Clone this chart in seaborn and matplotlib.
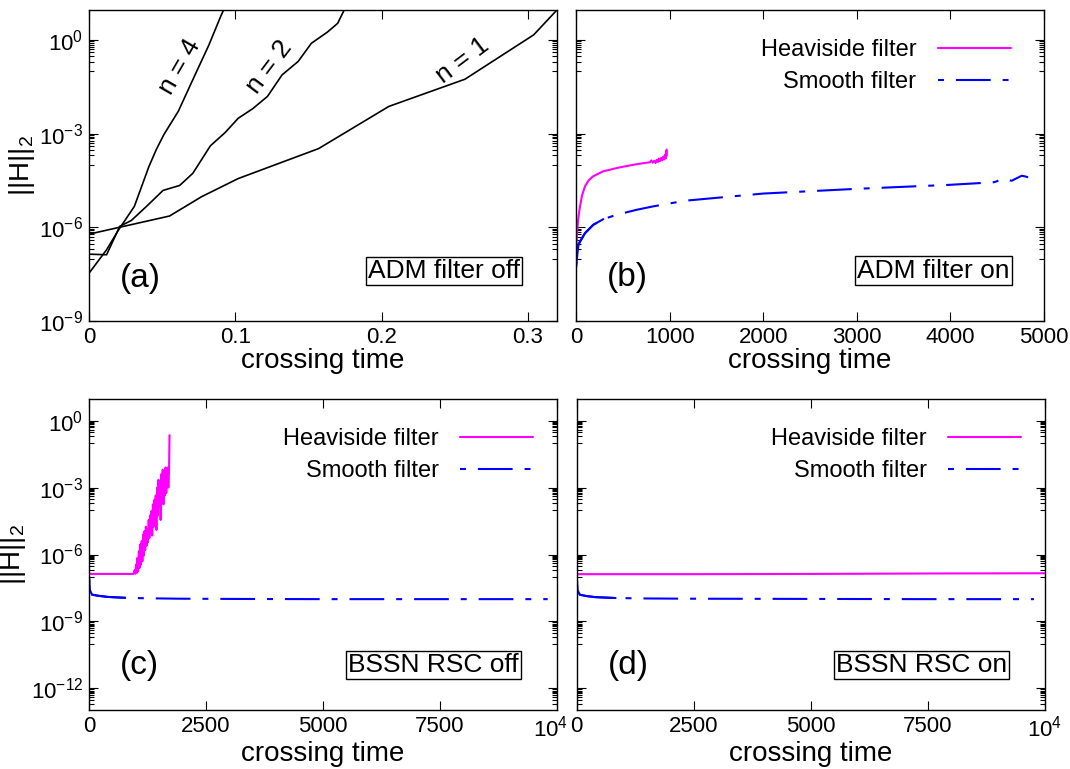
import numpy as np
import pandas as pd
import matplotlib
matplotlib.use("Agg")
import matplotlib.pyplot as plt
import seaborn as sns
from matplotlib.ticker import FixedLocator, FixedFormatter, NullFormatter
from matplotlib.transforms import ScaledTranslation

# ---------------- data (log10 of ||H||_2 versus crossing time) ----------------
# (a) ADM filter off, three resolutions
n1_t = [0.0, 0.055, 0.077, 0.102, 0.157, 0.205, 0.257, 0.304, 0.3208]
n1_log10H = [-6.22, -5.64, -5.02, -4.44, -3.48, -2.13, -1.26, 0.16, 1.0]
n2_t = [0.0, 0.012, 0.021, 0.029, 0.040, 0.0506, 0.062, 0.071, 0.083, 0.093,
        0.102, 0.112, 0.122, 0.132, 0.143, 0.152, 0.163, 0.170, 0.1745, 0.175]
n2_log10H = [-6.86, -6.88, -5.97, -5.78, -5.30, -4.82, -4.66, -4.27, -3.39, -2.97,
             -2.51, -2.20, -1.81, -1.12, -0.69, -0.11, 0.25, 0.53, 0.96, 1.0]
n4_t = [0.0, 0.012, 0.020, 0.031, 0.041, 0.046, 0.0512, 0.061, 0.072, 0.082, 0.090, 0.092, 0.0925]
n4_log10H = [-7.47, -6.72, -6.10, -5.33, -4.05, -3.51, -3.03, -2.29, -1.17, -0.16, 0.75, 0.96, 1.0]
n_labels = ["n = 4", "n = 2", "n = 1"]

# (b) ADM filter on
heav_b_t = [0, 5, 14, 25, 43, 65, 96, 135, 182, 288, 470, 649, 760, 790, 805, 820, 835,
            850, 862, 875, 885, 897, 910, 920, 930, 940, 950, 958, 963, 966, 969]
heav_b_log10H = [-7.15, -6.60, -6.08, -5.70, -5.33, -4.98, -4.69, -4.50, -4.37, -4.21, -4.08,
                 -3.98, -3.93, -3.92, -3.86, -3.93, -3.87, -3.94, -3.84, -3.91, -3.80, -3.88,
                 -3.78, -3.86, -3.74, -3.83, -3.68, -3.80, -3.55, -3.72, -3.51]
smooth_b_t = [0, 25, 43, 96, 185, 292, 434, 648, 826, 1164, 2001, 2991, 3996, 4459,
              4494, 4548, 4601, 4655, 4708, 4762, 4797, 4830]
smooth_b_log10H = [-7.30, -6.56, -6.46, -6.19, -5.92, -5.74, -5.60, -5.44, -5.33, -5.15,
                   -4.92, -4.77, -4.64, -4.56, -4.53, -4.45, -4.47, -4.51, -4.43, -4.35,
                   -4.37, -4.40]

# (c) BSSN RSC off
heav_c_t = [0, 951, 975, 990, 1005, 1020, 1035, 1050, 1065, 1080, 1095, 1110, 1125, 1140,
            1155, 1170, 1185, 1200, 1215, 1230, 1245, 1260, 1275, 1290, 1305, 1320, 1335,
            1350, 1365, 1380, 1395, 1410, 1425, 1440, 1455, 1470, 1485, 1500, 1515, 1530,
            1545, 1560, 1575, 1590, 1605, 1620, 1635, 1650, 1665, 1680, 1695, 1710, 1720]
heav_c_log10H = [-6.87, -6.87, -6.70, -6.86, -6.45, -6.82, -6.15, -6.75, -5.85, -6.60,
                 -5.55, -6.45, -5.40, -6.30, -5.10, -6.05, -4.95, -5.80, -4.75, -5.60,
                 -4.85, -5.45, -4.45, -5.25, -4.25, -5.00, -4.05, -5.15, -3.75, -4.75,
                 -3.55, -4.55, -3.35, -4.90, -3.00, -4.25, -2.65, -3.85, -2.90, -4.45,
                 -2.40, -3.55, -2.20, -3.75, -2.45, -3.35, -2.10, -3.25, -2.45, -2.10,
                 -3.00, -2.20, -0.65]
smooth_c_t = [0, 20, 64, 200, 400, 772, 1200, 1923, 3000, 5000, 7500, 9800]
smooth_c_log10H = [-6.99, -7.60, -7.80, -7.85, -7.90, -7.94, -7.96, -7.98, -7.99, -8.0, -8.0, -8.0]

# (d) BSSN RSC on
heav_d_t = [0, 2500, 5000, 7500, 10000]
heav_d_log10H = [-6.88, -6.88, -6.87, -6.85, -6.84]
smooth_d_t = [0, 20, 64, 200, 400, 830, 1500, 2403, 5000, 7500, 9770]
smooth_d_log10H = [-6.99, -7.60, -7.80, -7.86, -7.91, -7.95, -7.97, -7.98, -7.99, -8.0, -8.0]

series_names = ["Heaviside filter", "Smooth filter"]
panel_tags = ["(a)", "(b)", "(c)", "(d)"]
panel_boxes = ["ADM filter off", "ADM filter on", "BSSN RSC off", "BSSN RSC on"]
xticks_ab = [[0, 0.1, 0.2, 0.3], [0, 1000, 2000, 3000, 4000, 5000]]
xticklabels_ab = [["0", "0.1", "0.2", "0.3"], ["0", "1000", "2000", "3000", "4000", "5000"]]
xticks_cd = [0, 2500, 5000, 7500, 10000]
xticklabels_cd = ["0", "2500", "5000", "7500", r"$\mathregular{10^{4}}$"]
yexp_ab = [0, -3, -6, -9]
yexp_cd = [0, -3, -6, -9, -12]

# ---------------- style ----------------
sns.set_style("ticks")
plt.rcParams.update({
    "font.family": ["Liberation Sans", "DejaVu Sans"],
    "mathtext.default": "regular",
    "axes.linewidth": 1.0,
    "lines.scale_dashes": False,
    "xtick.direction": "in",
    "ytick.direction": "in",
    "text.color": "black",
    "axes.labelcolor": "black",
    "xtick.color": "black",
    "ytick.color": "black",
    "axes.edgecolor": "black",
})

MAGENTA = "#ff00ff"
BLUE = "#0000ff"
DASH = (0, (4.3, 8.6, 25, 8.6))
LW = 1.5

fig = plt.figure(figsize=(10.7, 7.69), dpi=100)
W, H = 0.4374, 0.4044
ax_a = fig.add_axes([0.0832, 0.5826, W, H])
ax_b = fig.add_axes([0.5383, 0.5826, W, H])
ax_c = fig.add_axes([0.0832, 0.0767, W, H])
ax_d = fig.add_axes([0.5390, 0.0767, W, H])


def style_axis(ax, yexps, ylog_lim, xlim, xt, xtl, ylabels):
    ax.set_yscale("log")
    ax.set_xlim(*xlim)
    ax.set_ylim(10.0 ** ylog_lim[0], 10.0 ** ylog_lim[1])
    majors = [10.0 ** e for e in yexps]
    minors = [k * 10.0 ** (e - 1) for e in yexps for k in range(1, 10)]
    ax.yaxis.set_major_locator(FixedLocator(majors))
    ax.yaxis.set_minor_locator(FixedLocator(minors))
    ax.yaxis.set_minor_formatter(NullFormatter())
    if ylabels:
        ax.yaxis.set_major_formatter(FixedFormatter([r"$\mathregular{10^{%d}}$" % e for e in yexps]))
        ax.set_ylabel(r"$\mathregular{||H||_2}$", fontsize=20, labelpad=2)
    else:
        ax.yaxis.set_major_formatter(NullFormatter())
        ax.set_ylabel("")
    ax.xaxis.set_major_locator(FixedLocator(xt))
    ax.xaxis.set_major_formatter(FixedFormatter(xtl))
    ax.xaxis.set_minor_locator(FixedLocator([]))
    ax.set_xlabel("crossing time", fontsize=20, labelpad=0)
    ax.tick_params(which="both", direction="in", top=True, right=True, labelsize=16,
                   color="black", labelcolor="black", width=0.8)
    ax.tick_params(which="major", length=6.5, pad=4)
    ax.tick_params(which="minor", length=3.5)
    for s in ax.spines.values():
        s.set_linewidth(1.0)
        s.set_color("black")


def line(ax, t, logv, **kw):
    df = pd.DataFrame({"t": t, "H": 10.0 ** np.asarray(logv)})
    sns.lineplot(data=df, x="t", y="H", ax=ax, estimator=None, sort=False,
                 legend=False, **kw)
    return ax.lines[-1]


def pair_panel(ax, ht, hl, st, sl, solid_until, leg_x):
    h = line(ax, ht, hl, color=MAGENTA, linewidth=LW)
    s = line(ax, st, sl, color=BLUE, linewidth=LW, linestyle=DASH)
    st_arr = np.asarray(st)
    keep = st_arr <= solid_until
    line(ax, st_arr[keep], np.asarray(sl)[keep], color=BLUE, linewidth=LW)
    ax.legend([h, s], series_names, loc="upper right", bbox_to_anchor=(leg_x, 0.906),
              frameon=False, markerfirst=False, fontsize=17, handlelength=3.1,
              handletextpad=0.9, labelspacing=0.43, borderpad=0, borderaxespad=0)


# (a)
for ax in [ax_a, ax_b, ax_c, ax_d]:
    ax.set_yscale("log")
line(ax_a, n4_t, n4_log10H, color="black", linewidth=1.2)
line(ax_a, n2_t, n2_log10H, color="black", linewidth=1.2)
line(ax_a, n1_t, n1_log10H, color="black", linewidth=1.2)
for lab, (fx, fy, rot) in zip(n_labels, [(0.193, 0.818, 60), (0.385, 0.818, 53), (0.799, 0.839, 37)]):
    ax_a.text(fx, fy, lab, transform=ax_a.transAxes, rotation=rot, fontsize=19,
              ha="center", va="center", rotation_mode="anchor")

# (b)
pair_panel(ax_b, heav_b_t, heav_b_log10H, smooth_b_t, smooth_b_log10H, 292, 0.929)
# (c)
pair_panel(ax_c, heav_c_t, heav_c_log10H, smooth_c_t, smooth_c_log10H, 780, 0.949)
# (d)
pair_panel(ax_d, heav_d_t, heav_d_log10H, smooth_d_t, smooth_d_log10H, 830, 0.950)

style_axis(ax_a, yexp_ab, (-9, 0.957), (0, 0.32), xticks_ab[0], xticklabels_ab[0], True)
style_axis(ax_b, yexp_ab, (-9, 0.957), (0, 5000), xticks_ab[1], xticklabels_ab[1], False)
style_axis(ax_c, yexp_cd, (-12.97, 0.97), (0, 10000), xticks_cd, xticklabels_cd, True)
style_axis(ax_d, yexp_cd, (-12.97, 0.97), (0, 10000), xticks_cd, xticklabels_cd, False)

tag_pos = [(0.109, 0.135), (0.109, 0.139), (0.107, 0.1425), (0.110, 0.1425)]
box_pos = [(0.758, 0.161), (0.764, 0.162), (0.736, 0.145), (0.736, 0.145)]
for ax, tag, tp, box, bp in zip([ax_a, ax_b, ax_c, ax_d], panel_tags, tag_pos, panel_boxes, box_pos):
    ax.text(tp[0], tp[1], tag, transform=ax.transAxes, fontsize=24, ha="center", va="center")
    ax.text(bp[0], bp[1], box, transform=ax.transAxes, fontsize=19, ha="center", va="center",
            bbox=dict(boxstyle="square,pad=0.08", fc="white", ec="black", lw=1.0))

# nudge the last x tick label of (c) so it does not run into the "0" of (d)
fig.canvas.draw()
last = ax_c.get_xticklabels()[-1]
last.set_transform(last.get_transform() + ScaledTranslation(-5 / 72, 0, fig.dpi_scale_trans))

fig.savefig("out.png", dpi=100)
